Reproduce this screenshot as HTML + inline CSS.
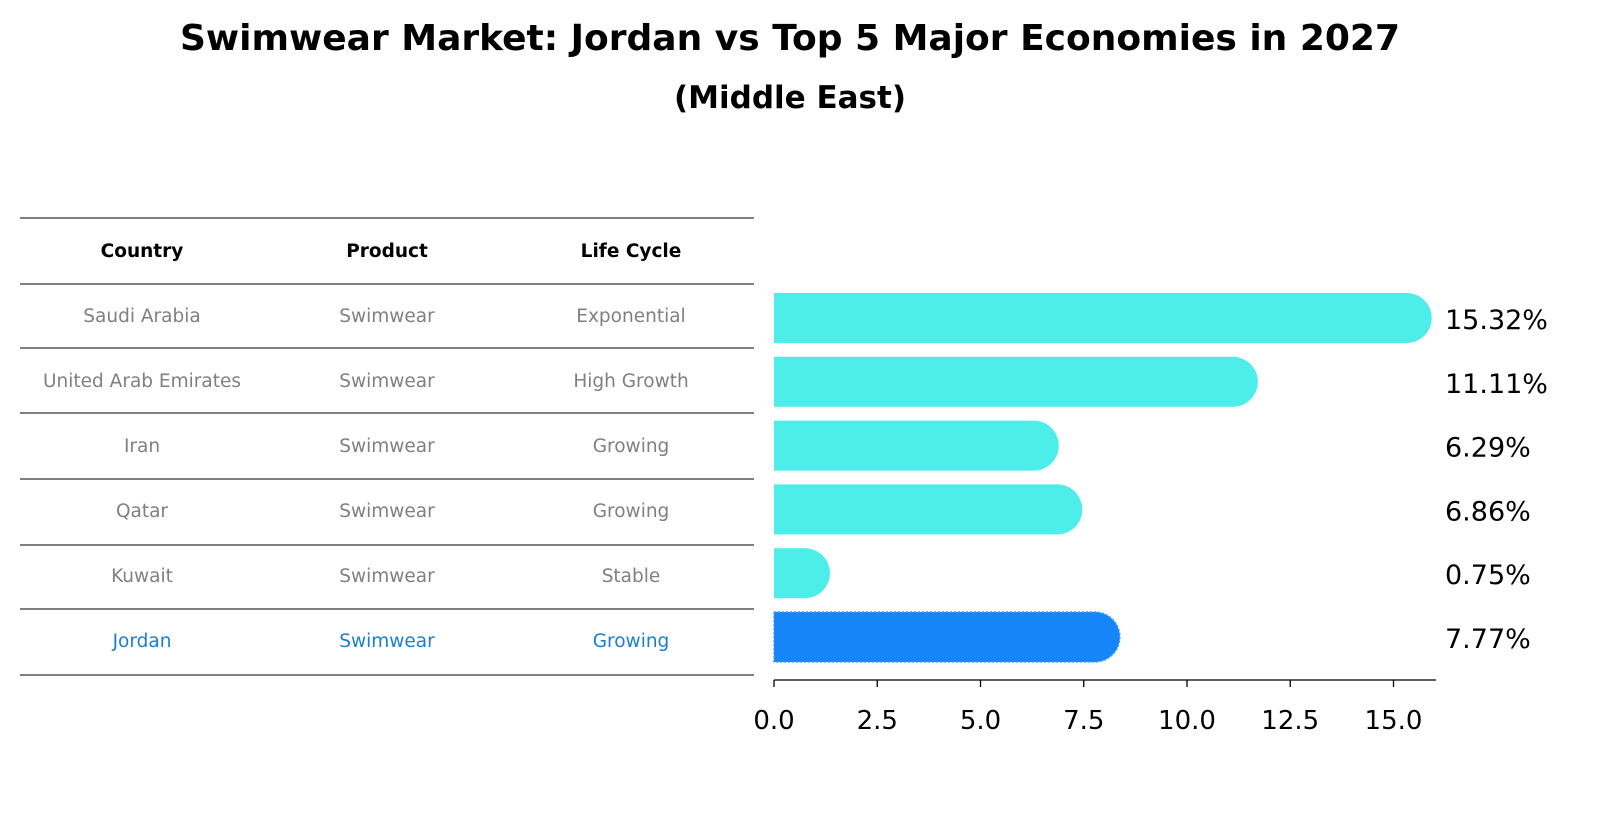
<!DOCTYPE html>
<html><head><meta charset="utf-8"><style>
body{margin:0;background:#fff;font-family:"DejaVu Sans","Liberation Sans",sans-serif;}
#wrap{position:relative;width:1604px;height:823px;overflow:hidden;}
</style></head><body>
<div id="wrap">
<svg id="svg" width="1604" height="823" xmlns="http://www.w3.org/2000/svg">
<text x="790" y="50" text-anchor="middle" font-size="36" font-weight="bold">Swimwear Market: Jordan vs Top 5 Major Economies in 2027</text>
<text x="790" y="108" text-anchor="middle" font-size="31" font-weight="bold">(Middle East)</text>
<g id="table"></g>
<g id="bars"></g>
<g id="axis"></g>
</svg>
</div>
<script>
const countries=["Saudi Arabia","United Arab Emirates","Iran","Qatar","Kuwait","Jordan"];
const products=["Swimwear","Swimwear","Swimwear","Swimwear","Swimwear","Swimwear"];
const lifeCycles=["Exponential","High Growth","Growing","Growing","Stable","Growing"];
const values=[15.32,11.11,6.29,6.86,0.75,7.77];
const ticks=[0,2.5,5,7.5,10,12.5,15];
const NS="http://www.w3.org/2000/svg";
function mk(t,a,p){const e=document.createElementNS(NS,t);for(const k in a)e.setAttribute(k,a[k]);p.appendChild(e);return e;}
const x0=774,ppu=41.3;
const xs=v=>x0+v*ppu;
const rowY=i=>318+i*63.8;
const tbl=document.getElementById('table');
const lineYs=[218,284,348,413,479,545,609,675];
lineYs.forEach(y=>{const l=mk('line',{x1:20,x2:754,y1:y,y2:y,stroke:'#000','stroke-width':1},tbl);

});
const colX=[142,387,631];
["Country","Product","Life Cycle"].forEach((h,j)=>{const t=mk('text',{x:colX[j],y:257,'text-anchor':'middle','font-size':18.5,'font-weight':'bold'},tbl);t.textContent=h;

});
countries.forEach((c,i)=>{const y=322+i*65;const col=c==="Jordan"?"#1a7fd4":"#808080";
[c,products[i],lifeCycles[i]].forEach((s,j)=>{const t=mk('text',{x:colX[j],y:y,'text-anchor':'middle','font-size':18.5,fill:col},tbl);t.textContent=s;

});});
const bars=document.getElementById('bars');
values.forEach((v,i)=>{const cy=rowY(i),h=50,r=25;const col=countries[i]==="Jordan"?"#1685F8":"#4DEEEA";
const xe=xs(v);
const p=mk('path',{d:`M${x0},${cy-h/2} L${xe},${cy-h/2} A${r},${r} 0 0 1 ${xe},${cy+h/2} L${x0},${cy+h/2} Z`,fill:col},bars);
if(countries[i]==="Jordan"){p.setAttribute('stroke','#3a9bff');p.setAttribute('stroke-dasharray','2,2');p.setAttribute('stroke-width','1.5');}


const t=mk('text',{x:1445,y:cy+11,'font-size':27},bars);t.textContent=v.toFixed(2)+'%';

});
const ax=document.getElementById('axis');
const al=mk('line',{x1:x0,x2:1436,y1:680,y2:680,stroke:'#000','stroke-width':1.3},ax);


ticks.forEach(v=>{const x=xs(v);const l=mk('line',{x1:x,x2:x,y1:680,y2:687,stroke:'#000','stroke-width':1.3},ax);


const t=mk('text',{x:x,y:729,'text-anchor':'middle','font-size':26},ax);t.textContent=v.toFixed(1);

});
</script>
</body></html>
